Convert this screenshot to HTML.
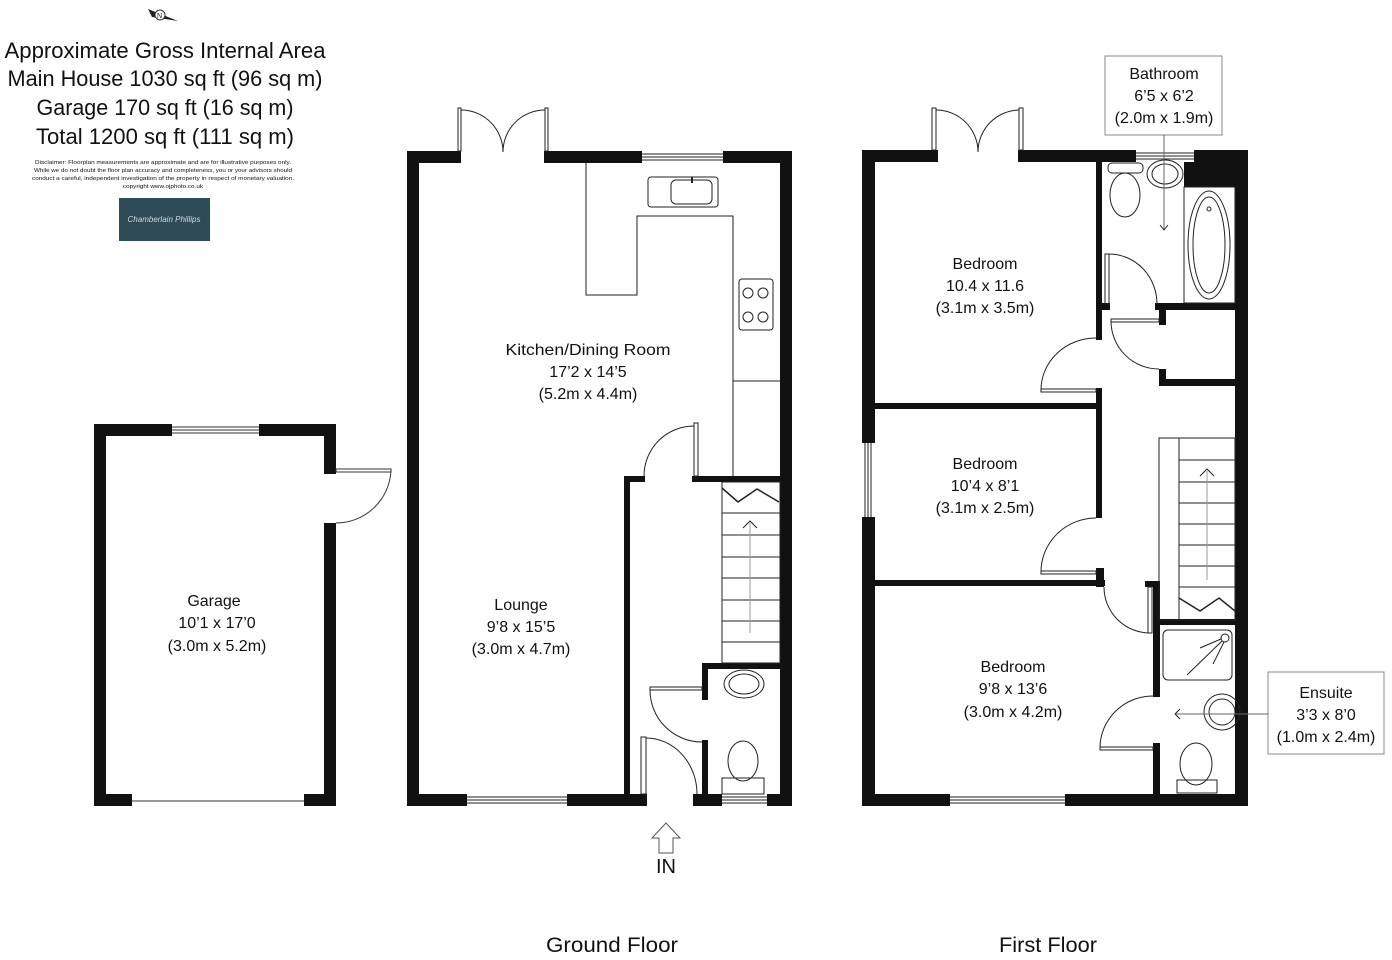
<!DOCTYPE html>
<html><head><meta charset="utf-8"><style>
html,body{margin:0;padding:0;background:#fff;}
svg{display:block}
text{font-family:"Liberation Sans",sans-serif;fill:#111;}
</style></head><body>
<svg width="1392" height="960" viewBox="0 0 1392 960" xmlns="http://www.w3.org/2000/svg">
<rect width="1392" height="960" fill="#fff"/>

<!-- Header -->
<g transform="translate(160,15)">
<path d="M-12,-6 L18,6 L-8,2 Z" fill="#222"/><circle cx="0" cy="0" r="5" fill="#fff" stroke="#333" stroke-width="1"/><text x="-3" y="3" font-size="7">N</text>
</g>
<g font-size="22" text-anchor="middle">
<text x="165" y="58" textLength="321" lengthAdjust="spacingAndGlyphs">Approximate Gross Internal Area</text>
<text x="165" y="86" textLength="315" lengthAdjust="spacingAndGlyphs">Main House 1030 sq ft (96 sq m)</text>
<text x="165" y="115" textLength="257" lengthAdjust="spacingAndGlyphs">Garage 170 sq ft (16 sq m)</text>
<text x="165" y="144" textLength="258" lengthAdjust="spacingAndGlyphs">Total 1200 sq ft (111 sq m)</text>
</g>
<g font-size="5.5" text-anchor="middle" fill="#333">
<text x="163" y="164" textLength="256" lengthAdjust="spacingAndGlyphs">Disclaimer: Floorplan measurements are approximate and are for illustrative purposes only.</text>
<text x="163" y="172" textLength="258" lengthAdjust="spacingAndGlyphs">While we do not doubt the floor plan accuracy and completeness, you or your advisors should</text>
<text x="163" y="180" textLength="262" lengthAdjust="spacingAndGlyphs">conduct a careful, independent investigation of the property in respect of monetary valuation.</text>
<text x="163" y="188" textLength="80" lengthAdjust="spacingAndGlyphs">copyright www.ojphoto.co.uk</text>
</g>
<rect x="119" y="198" width="91" height="43" fill="#2f4b57"/>
<text x="164" y="222" font-size="8" text-anchor="middle" style="fill:#cfd8dc;font-style:italic">Chamberlain Phillips</text>

<!-- ============ GARAGE ============ -->
<g fill="#111">
<rect x="94" y="424" width="12" height="382"/>
<rect x="94" y="424" width="78" height="12"/>
<rect x="259" y="424" width="77" height="12"/>
<rect x="324" y="424" width="12" height="50"/>
<rect x="324" y="523" width="12" height="283"/>
<rect x="94" y="794" width="38" height="12"/>
<rect x="304" y="794" width="32" height="12"/>
</g>
<g fill="none" stroke="#333" stroke-width="1">
<line x1="172" y1="427" x2="259" y2="427"/><line x1="172" y1="430" x2="259" y2="430"/><line x1="172" y1="433" x2="259" y2="433"/>
<line x1="132" y1="801" x2="304" y2="801"/>
<rect x="336" y="469" width="55" height="3"/>
<path d="M391,470 A55,55 0 0 1 336,523"/>
</g>
<g font-size="16" text-anchor="middle">
<text x="214" y="606">Garage</text>
<text x="217" y="628">10’1 x 17’0</text>
<text x="217" y="651">(3.0m x 5.2m)</text>
</g>

<!-- ============ GROUND FLOOR ============ -->
<g fill="#111">
<rect x="407" y="151" width="12" height="655"/>
<rect x="407" y="151" width="54" height="12"/>
<rect x="544" y="151" width="98" height="12"/>
<rect x="723" y="151" width="69" height="12"/>
<rect x="780" y="151" width="12" height="655"/>
<rect x="407" y="794" width="60" height="12"/>
<rect x="567" y="794" width="80" height="12"/>
<rect x="693" y="794" width="29" height="12"/>
<rect x="767" y="794" width="25" height="12"/>
<rect x="624" y="476" width="6" height="330"/>
<rect x="624" y="476" width="21" height="6"/>
<rect x="692" y="476" width="88" height="6"/>
<rect x="702" y="663" width="78" height="6"/>
<rect x="702" y="663" width="6" height="37"/>
<rect x="702" y="740" width="6" height="66"/>
</g>
<g fill="none" stroke="#222" stroke-width="1">
<!-- french doors -->
<rect x="458" y="108" width="3" height="43"/><rect x="545" y="108" width="3" height="43"/>
<path d="M461,110 A42,42 0 0 1 503,152"/><path d="M545,110 A42,42 0 0 0 503,152"/>
<!-- windows -->
<line x1="642" y1="154" x2="723" y2="154"/><line x1="642" y1="157" x2="723" y2="157"/><line x1="642" y1="160" x2="723" y2="160"/>
<line x1="467" y1="797" x2="567" y2="797"/><line x1="467" y1="800" x2="567" y2="800"/><line x1="467" y1="803" x2="567" y2="803"/>
<line x1="722" y1="797" x2="767" y2="797"/><line x1="722" y1="800" x2="767" y2="800"/><line x1="722" y1="803" x2="767" y2="803"/>
<!-- kitchen counter -->
<path d="M586,163 V295 H637 V216 H733 V476"/>
<line x1="733" y1="381" x2="780" y2="381"/>
<rect x="648" y="177" width="70" height="30" rx="3"/>
<rect x="671" y="180" width="41" height="24" rx="5"/>
<line x1="692" y1="177" x2="692" y2="183" stroke-width="2"/>
<rect x="739" y="279" width="34" height="51" rx="3"/>
<circle cx="748" cy="293" r="5"/><circle cx="763" cy="293" r="5"/><circle cx="748" cy="317" r="5"/><circle cx="763" cy="317" r="5"/>
<!-- kitchen door -->
<rect x="694" y="423" width="4" height="53"/>
<path d="M694,426 A50,50 0 0 0 644,476"/>
<!-- stairs -->
<rect x="722" y="482" width="58" height="181"/>
<line x1="722" y1="513" x2="780" y2="513"/><line x1="722" y1="535" x2="780" y2="535"/><line x1="722" y1="557" x2="780" y2="557"/><line x1="722" y1="578" x2="780" y2="578"/><line x1="722" y1="600" x2="780" y2="600"/><line x1="722" y1="621" x2="780" y2="621"/><line x1="722" y1="642" x2="780" y2="642"/>
<polyline points="722,488 738,502 757,489 779,502" stroke-width="1.5"/>
<line x1="750" y1="633" x2="750" y2="523" stroke="#999"/>
<polyline points="743,528 750,521 757,528"/>
<!-- WC door -->
<rect x="650" y="687" width="52" height="3"/>
<path d="M650,690 A52,52 0 0 0 702,742"/>
<!-- front door -->
<rect x="641" y="737" width="5" height="57"/>
<path d="M646,738 A51,56 0 0 1 697,794"/>
<!-- WC fixtures -->
<ellipse cx="744" cy="684" rx="20" ry="14"/><ellipse cx="744" cy="684" rx="15" ry="10"/>
<ellipse cx="743" cy="761" rx="15" ry="20"/>
<rect x="722" y="778" width="42" height="16"/>
<!-- IN arrow -->
<path d="M659,853 V838 H652 L666,823 L680,838 H673 V853 Z" stroke="#555"/>
</g>
<text x="666" y="873" font-size="20" text-anchor="middle">IN</text>
<g font-size="16" text-anchor="middle">
<text x="588" y="355" textLength="165" lengthAdjust="spacingAndGlyphs">Kitchen/Dining Room</text>
<text x="588" y="377">17’2 x 14’5</text>
<text x="588" y="399">(5.2m x 4.4m)</text>
<text x="521" y="610">Lounge</text>
<text x="521" y="632">9’8 x 15’5</text>
<text x="521" y="654">(3.0m x 4.7m)</text>
</g>

<!-- ============ FIRST FLOOR ============ -->
<g fill="#111">
<rect x="862" y="150" width="13" height="293"/>
<rect x="862" y="517" width="13" height="289"/>
<rect x="862" y="150" width="76" height="12"/>
<rect x="1018" y="150" width="118" height="12"/>
<rect x="1194" y="150" width="54" height="12"/>
<rect x="1235" y="150" width="13" height="656"/>
<rect x="862" y="794" width="88" height="12"/>
<rect x="1065" y="794" width="183" height="12"/>
<rect x="1184" y="162" width="51" height="25"/>
<!-- bedroom walls -->
<rect x="1096" y="162" width="6" height="178"/>
<rect x="1096" y="388" width="6" height="130"/>
<rect x="875" y="403" width="227" height="6"/>
<rect x="1096" y="568" width="8" height="19"/>
<rect x="875" y="580" width="230" height="6"/>
<!-- bathroom/cupboard walls -->
<rect x="1102" y="303" width="8" height="7"/>
<rect x="1155" y="303" width="80" height="7"/>
<rect x="1159" y="303" width="7" height="22"/>
<rect x="1159" y="369" width="7" height="17"/>
<rect x="1159" y="379" width="76" height="7"/>
<!-- ensuite walls -->
<rect x="1145" y="581" width="15" height="6"/>
<rect x="1153" y="581" width="7" height="116"/>
<rect x="1153" y="743" width="7" height="63"/>
<rect x="1153" y="619" width="82" height="6"/>
</g>
<g fill="none" stroke="#222" stroke-width="1">
<rect x="932" y="108" width="4" height="42"/><rect x="1019" y="108" width="4" height="42"/>
<path d="M936,110 A42,42 0 0 1 978,152"/><path d="M1019,110 A42,42 0 0 0 978,152"/>
<line x1="1136" y1="153" x2="1194" y2="153"/><line x1="1136" y1="156" x2="1194" y2="156"/><line x1="1136" y1="159" x2="1194" y2="159"/>
<line x1="950" y1="797" x2="1065" y2="797"/><line x1="950" y1="800" x2="1065" y2="800"/><line x1="950" y1="803" x2="1065" y2="803"/>
<line x1="865" y1="443" x2="865" y2="517"/><line x1="868" y1="443" x2="868" y2="517"/><line x1="871" y1="443" x2="871" y2="517"/>
<!-- bedroom doors -->
<rect x="1041" y="389" width="55" height="3"/>
<path d="M1096,338 A55,52 0 0 0 1041,390"/>
<rect x="1041" y="571" width="55" height="3"/>
<path d="M1096,518 A55,54 0 0 0 1041,572"/>
<rect x="1148" y="587" width="4" height="46"/>
<path d="M1104,587 A46,46 0 0 0 1150,633"/>
<!-- bathroom -->
<rect x="1105" y="254" width="4" height="50"/>
<path d="M1109,254 A48,50 0 0 1 1157,304"/>
<rect x="1111" y="319" width="48" height="3"/>
<path d="M1111,321 A48,48 0 0 0 1159,369"/>
<rect x="1184" y="187" width="51" height="116"/>
<ellipse cx="1209" cy="245" rx="21" ry="54"/><ellipse cx="1209" cy="245" rx="16" ry="48"/>
<circle cx="1209" cy="209" r="2"/>
<rect x="1108" y="163" width="35" height="10" rx="4"/>
<ellipse cx="1125" cy="195" rx="15" ry="22"/>
<ellipse cx="1165" cy="174" rx="18" ry="14"/><ellipse cx="1165" cy="174" rx="13" ry="10"/>
<rect x="1105" y="56" width="117" height="79" stroke="#888"/>
<line x1="1164" y1="135" x2="1164" y2="229" stroke="#666"/>
<polyline points="1160,225 1164,230 1168,225"/>
<!-- stairs -->
<rect x="1159" y="438" width="76" height="182"/>
<line x1="1179" y1="438" x2="1179" y2="620"/>
<line x1="1179" y1="460" x2="1235" y2="460"/><line x1="1179" y1="482" x2="1235" y2="482"/><line x1="1179" y1="503" x2="1235" y2="503"/><line x1="1179" y1="524" x2="1235" y2="524"/><line x1="1179" y1="545" x2="1235" y2="545"/><line x1="1179" y1="566" x2="1235" y2="566"/><line x1="1179" y1="587" x2="1235" y2="587"/>
<polyline points="1179,598 1200,611 1219,598 1235,611" stroke-width="1.5"/>
<line x1="1207" y1="580" x2="1207" y2="471" stroke="#999"/>
<polyline points="1200,476 1207,469 1214,476"/>
<!-- ensuite -->
<rect x="1163" y="630" width="69" height="50" rx="5"/>
<circle cx="1225" cy="638" r="4"/>
<line x1="1187" y1="675" x2="1222" y2="641"/><line x1="1200" y1="648" x2="1221" y2="639"/><line x1="1213" y1="664" x2="1224" y2="642"/>
<rect x="1100" y="747" width="53" height="3"/>
<path d="M1153,696 A53,52 0 0 0 1100,748"/>
<ellipse cx="1222" cy="712" rx="18" ry="18"/><ellipse cx="1222" cy="712" rx="13" ry="13"/>
<ellipse cx="1196" cy="764" rx="16" ry="21"/>
<rect x="1177" y="780" width="40" height="13"/>
<rect x="1268" y="672" width="116" height="82" stroke="#888"/>
<line x1="1176" y1="714" x2="1268" y2="714" stroke="#666"/>
<polyline points="1180,709 1175,714 1180,719"/>
</g>
<g font-size="16" text-anchor="middle">
<text x="985" y="269">Bedroom</text>
<text x="985" y="291">10.4 x 11.6</text>
<text x="985" y="313">(3.1m x 3.5m)</text>
<text x="985" y="469">Bedroom</text>
<text x="985" y="491">10’4 x 8’1</text>
<text x="985" y="513">(3.1m x 2.5m)</text>
<text x="1013" y="672">Bedroom</text>
<text x="1013" y="694">9’8 x 13’6</text>
<text x="1013" y="717">(3.0m x 4.2m)</text>
<text x="1164" y="79">Bathroom</text>
<text x="1164" y="101">6’5 x 6’2</text>
<text x="1164" y="123">(2.0m x 1.9m)</text>
<text x="1326" y="698">Ensuite</text>
<text x="1326" y="720">3’3 x 8’0</text>
<text x="1326" y="742">(1.0m x 2.4m)</text>
</g>

<g font-size="21" text-anchor="middle">
<text x="612" y="952" textLength="132" lengthAdjust="spacingAndGlyphs">Ground Floor</text>
<text x="1048" y="952" textLength="98" lengthAdjust="spacingAndGlyphs">First Floor</text>
</g>
</svg>
</body></html>
